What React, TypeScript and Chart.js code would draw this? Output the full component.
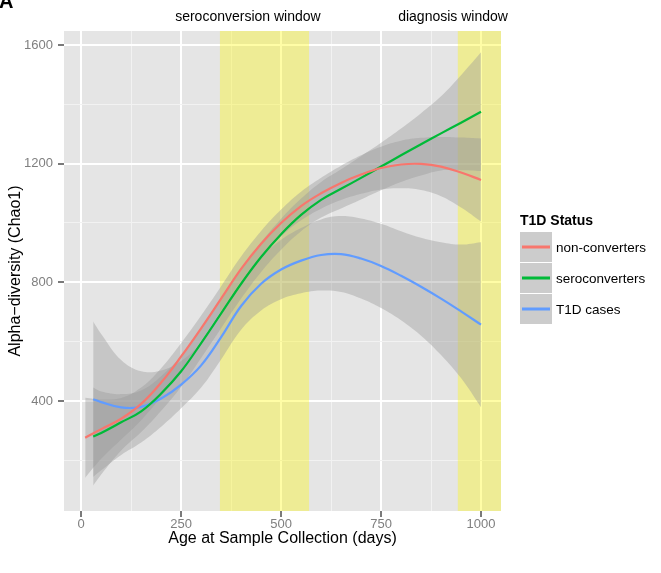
import React, { useEffect, useRef } from 'react';
import { Chart, registerables } from 'chart.js';

Chart.register(...registerables);

const FONT = "'Liberation Sans', Arial, Helvetica, sans-serif";

const seriesNames = ['non-converters', 'seroconverters', 'T1D cases'];
const seriesColors = ['#F8766D', '#00BA38', '#619CFF'];

// non-converters
const nonConvX = [10, 50, 100, 150, 200, 250, 300, 350, 400, 450, 500, 550, 600, 650, 700, 750, 800, 850, 900, 950, 1000];
const nonConvY = [276, 305, 340, 390, 462, 550, 645, 745, 845, 930, 1000, 1057, 1100, 1135, 1163, 1185, 1197, 1199, 1190, 1170, 1145];
const nonConvHigh = [411, 405, 410, 445, 510, 595, 688, 787, 887, 973, 1045, 1105, 1152, 1193, 1228, 1257, 1277, 1287, 1290, 1288, 1285];
const nonConvLow = [141, 205, 270, 335, 414, 505, 602, 703, 803, 887, 955, 1009, 1048, 1077, 1098, 1113, 1117, 1111, 1090, 1052, 1005];

// seroconverters
const seroX = [30, 50, 100, 150, 200, 250, 300, 350, 400, 450, 500, 550, 600, 650, 700, 750, 800, 850, 900, 950, 1000];
const seroY = [280, 292, 328, 365, 425, 500, 595, 695, 795, 885, 962, 1027, 1078, 1115, 1152, 1190, 1228, 1265, 1302, 1338, 1375];
const seroHigh = [445, 432, 423, 435, 483, 552, 645, 745, 845, 935, 1014, 1082, 1138, 1181, 1225, 1270, 1318, 1370, 1427, 1498, 1575];
const seroLow = [115, 152, 233, 295, 367, 448, 545, 645, 745, 835, 910, 972, 1018, 1049, 1079, 1110, 1138, 1160, 1177, 1178, 1175];

// T1D cases
const t1dX = [30, 50, 100, 150, 200, 250, 300, 350, 400, 450, 500, 550, 600, 650, 700, 750, 800, 850, 900, 950, 1000];
const t1dY = [406, 396, 378, 380, 408, 455, 520, 615, 720, 795, 843, 873, 892, 895, 880, 855, 822, 785, 745, 702, 657];
const t1dHigh = [668, 626, 538, 500, 503, 535, 595, 690, 800, 885, 943, 983, 1012, 1023, 1015, 997, 972, 950, 935, 927, 935];
const t1dLow = [144, 166, 218, 260, 313, 375, 445, 540, 640, 705, 743, 763, 772, 767, 745, 713, 672, 620, 555, 477, 379];

const xTickValues = [0, 125, 250, 375, 500, 625, 750, 875, 1000];
const yTickValues = [200, 400, 600, 800, 1000, 1200, 1400, 1600];

const windowLabels = ['seroconversion window', 'diagnosis window'];
const windowLabelX = [417, 930];
const windowStart = [347, 942];
const windowEnd = [570, 1050];

const xs = [nonConvX, seroX, t1dX];
const ys = [nonConvY, seroY, t1dY];
const highs = [nonConvHigh, seroHigh, t1dHigh];
const lows = [nonConvLow, seroLow, t1dLow];

const pts = (x: number[], y: number[]) => x.map((v, i) => ({ x: v, y: y[i] }));

const decorPlugin = {
  id: 'decor',
  beforeDraw(chart: any) {
    const { ctx, chartArea: a } = chart;
    ctx.save();
    ctx.fillStyle = '#E5E5E5';
    ctx.fillRect(a.left, a.top, a.right - a.left, a.bottom - a.top);
    ctx.restore();
  },
  beforeDatasetsDraw(chart: any) {
    const { ctx, chartArea: a } = chart;
    const xs = chart.scales.x;
    ctx.save();
    ctx.fillStyle = 'rgba(255,250,0,0.35)';
    for (let i = 0; i < windowStart.length; i++) {
      const l = Math.max(a.left, xs.getPixelForValue(windowStart[i]));
      const r = Math.min(a.right, xs.getPixelForValue(windowEnd[i]));
      ctx.fillRect(l, a.top, r - l, a.bottom - a.top);
    }
    ctx.restore();
  },
  afterDraw(chart: any) {
    const { ctx, chartArea: a } = chart;
    const xs = chart.scales.x;
    ctx.save();
    // panel letter
    ctx.fillStyle = '#000';
    ctx.font = `bold 20px ${FONT}`;
    ctx.textAlign = 'left';
    ctx.textBaseline = 'alphabetic';
    ctx.fillText('A', -1, 8);
    // window labels
    ctx.font = `14px ${FONT}`;
    ctx.textAlign = 'center';
    ctx.textBaseline = 'middle';
    for (let i = 0; i < windowLabels.length; i++) {
      ctx.fillText(windowLabels[i], xs.getPixelForValue(windowLabelX[i]), 17);
    }
    // legend
    const lx = a.right + 19;
    ctx.textAlign = 'left';
    ctx.font = `bold 14px ${FONT}`;
    ctx.fillText('T1D Status', lx, 221);
    for (let i = 0; i < seriesNames.length; i++) {
      const top = 232 + i * 31;
      ctx.fillStyle = '#CCCCCC';
      ctx.fillRect(lx, top, 32, 30);
      ctx.strokeStyle = seriesColors[i];
      ctx.lineWidth = 3;
      ctx.beginPath();
      ctx.moveTo(lx + 2, top + 15);
      ctx.lineTo(lx + 30, top + 15);
      ctx.stroke();
      ctx.fillStyle = '#000';
      ctx.font = `13.5px ${FONT}`;
      ctx.fillText(seriesNames[i], lx + 36, top + 16);
    }
    ctx.restore();
  },
};

export default function App() {
  const ref = useRef<HTMLCanvasElement | null>(null);
  useEffect(() => {
    if (!ref.current) return;
    const datasets: any[] = [];
    for (let i = 0; i < 3; i++) {
      datasets.push({
        label: seriesNames[i],
        data: pts(xs[i], ys[i]),
        borderColor: seriesColors[i],
        borderWidth: 2.2,
        pointRadius: 0,
        tension: 0.4,
        fill: false,
        order: 0,
      });
    }
    for (let i = 0; i < 3; i++) {
      datasets.push({
        label: seriesNames[i] + ' low',
        data: pts(xs[i], lows[i]),
        borderWidth: 0,
        borderColor: 'rgba(0,0,0,0)',
        pointRadius: 0,
        tension: 0.4,
        fill: false,
        order: 1,
      });
      datasets.push({
        label: seriesNames[i] + ' high',
        data: pts(xs[i], highs[i]),
        borderWidth: 0,
        borderColor: 'rgba(0,0,0,0)',
        backgroundColor: 'rgba(153,153,153,0.4)',
        pointRadius: 0,
        tension: 0.4,
        fill: '-1',
        order: 1,
      });
    }
    const chart = new Chart(ref.current, {
      type: 'line',
      data: { datasets },
      plugins: [decorPlugin],
      options: {
        animation: false,
        responsive: false,
        devicePixelRatio: 1,
        layout: { padding: { top: 31, right: 160, bottom: 0, left: 0 } },
        plugins: { legend: { display: false }, tooltip: { enabled: false } },
        scales: {
          x: {
            type: 'linear',
            min: -43,
            max: 1050,
            afterBuildTicks: (s: any) => { s.ticks = xTickValues.map((v) => ({ value: v })); },
            afterFit: (s: any) => { s.height = 62; },
            border: { display: false },
            grid: {
              color: (c: any) => (c.tick && c.tick.value % 250 === 0 ? '#FFFFFF' : '#F2F2F2'),
              lineWidth: (c: any) => (c.tick && c.tick.value % 250 === 0 ? 2 : 1),
              tickColor: (c: any) => (c.tick && c.tick.value % 250 === 0 ? '#7A7A7A' : 'rgba(0,0,0,0)'),
              tickWidth: 2,
              tickLength: 6,
            },
            ticks: {
              autoSkip: false,
              maxRotation: 0,
              padding: 0,
              color: '#7F7F7F',
              font: { family: FONT, size: 13 },
              callback: (v: any) => (Number(v) % 250 === 0 ? String(v) : ''),
            },
            title: {
              display: true,
              text: 'Age at Sample Collection (days)',
              color: '#000',
              font: { family: FONT, size: 16 },
              padding: { top: 0, bottom: 25 },
            },
          },
          y: {
            type: 'linear',
            min: 29,
            max: 1647,
            afterBuildTicks: (s: any) => { s.ticks = yTickValues.map((v) => ({ value: v })); },
            afterFit: (s: any) => { s.width = 64; },
            border: { display: false },
            grid: {
              color: (c: any) => (c.tick && c.tick.value % 400 === 0 ? '#FFFFFF' : '#F2F2F2'),
              lineWidth: (c: any) => (c.tick && c.tick.value % 400 === 0 ? 2 : 1),
              tickColor: (c: any) => (c.tick && c.tick.value % 400 === 0 ? '#7A7A7A' : 'rgba(0,0,0,0)'),
              tickWidth: 2,
              tickLength: 6,
            },
            ticks: {
              autoSkip: false,
              padding: 5,
              color: '#7F7F7F',
              font: { family: FONT, size: 13 },
              callback: (v: any) => (Number(v) % 400 === 0 ? String(v) : ''),
            },
            title: {
              display: true,
              text: 'Alpha\u2212diversity (Chao1)',
              color: '#000',
              font: { family: FONT, size: 16 },
              padding: { top: 6, bottom: 0 },
            },
          },
        },
      },
    } as any);
    return () => chart.destroy();
  }, []);
  return (
    <div style={{ position: 'fixed', left: 0, top: 0, width: 661, height: 573, background: '#fff' }}>
      <canvas ref={ref} width={661} height={573} style={{ display: 'block', width: 661, height: 573 }} />
    </div>
  );
}
